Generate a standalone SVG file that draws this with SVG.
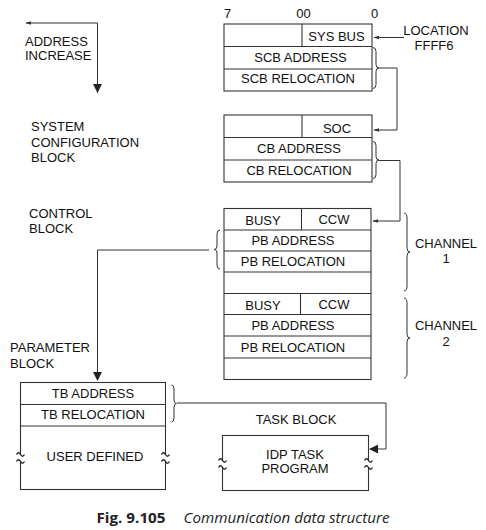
<svg xmlns="http://www.w3.org/2000/svg" width="486" height="530" viewBox="0 0 486 530">
<style>
.b{fill:none;stroke:#333;stroke-width:1.1}
.c{fill:none;stroke:#333;stroke-width:1}
.k{fill:none;stroke:#222;stroke-width:1.4}
.t{font-family:"Liberation Sans",Arial,sans-serif;font-size:13px;fill:#111}
.m{text-anchor:middle}
.w{fill:#fff;stroke:none}
</style>
<defs>
<marker id="op" viewBox="0 0 10 10" refX="9" refY="5" markerWidth="6" markerHeight="6" orient="auto" markerUnits="userSpaceOnUse">
<path d="M0 2 L10 5 L0 8 Z" fill="#333"/>
</marker>
<marker id="fl" viewBox="0 0 10 10" refX="9" refY="5" markerWidth="9" markerHeight="9" orient="auto" markerUnits="userSpaceOnUse">
<path d="M0 0 L10 5 L0 10 Z" fill="#222"/>
</marker>
</defs>
<rect width="486" height="530" fill="#fff"/>

<g id="address-increase">
<text class="t" x="25" y="46">ADDRESS</text>
<text class="t" x="25" y="60">INCREASE</text>
</g>

<g id="labels">
<text class="t" x="31" y="131">SYSTEM</text>
<text class="t" x="31" y="147">CONFIGURATION</text>
<text class="t" x="31" y="162">BLOCK</text>
<text class="t" x="29" y="218">CONTROL</text>
<text class="t" x="29" y="233">BLOCK</text>
<text class="t" x="10" y="352">PARAMETER</text>
<text class="t" x="10" y="368">BLOCK</text>
<text class="t m" x="436" y="35">LOCATION</text>
<text class="t m" x="434" y="50">FFFF6</text>
<text class="t m" x="446" y="248">CHANNEL</text>
<text class="t m" x="446" y="263">1</text>
<text class="t m" x="446" y="330">CHANNEL</text>
<text class="t m" x="446" y="346">2</text>
<text class="t m" x="296" y="424">TASK BLOCK</text>
</g>

<g id="sys-bus-block">
<text class="t" x="224" y="18">7</text>
<text class="t m" x="303.5" y="18">00</text>
<text class="t m" x="374.5" y="18">0</text>
<rect class="b" x="224" y="24" width="148" height="67"/>
<line class="b" x1="224" y1="46.5" x2="372" y2="46.5"/>
<line class="b" x1="224" y1="69" x2="372" y2="69"/>
<line class="b" x1="302" y1="24" x2="302" y2="46.5"/>
<text class="t m" x="336.5" y="41">SYS BUS</text>
<text class="t m" x="300.5" y="62">SCB ADDRESS</text>
<text class="t m" x="298" y="83">SCB RELOCATION</text>
</g>

<g id="system-configuration-block">
<rect class="b" x="224" y="115" width="148" height="67"/>
<line class="b" x1="224" y1="137.5" x2="372" y2="137.5"/>
<line class="b" x1="224" y1="160" x2="372" y2="160"/>
<line class="b" x1="302" y1="115" x2="302" y2="137.5"/>
<text class="t m" x="337" y="133">SOC</text>
<text class="t m" x="299" y="153">CB ADDRESS</text>
<text class="t m" x="299" y="175">CB RELOCATION</text>
</g>

<g id="control-block">
<rect class="b" x="224" y="208.5" width="147" height="171"/>
<line class="b" x1="224" y1="230" x2="371" y2="230"/>
<line class="b" x1="224" y1="251" x2="371" y2="251"/>
<line class="b" x1="224" y1="272" x2="371" y2="272"/>
<line class="b" x1="224" y1="293.5" x2="371" y2="293.5"/>
<line class="b" x1="224" y1="314.5" x2="371" y2="314.5"/>
<line class="b" x1="224" y1="336" x2="371" y2="336"/>
<line class="b" x1="224" y1="358" x2="371" y2="358"/>
<line class="b" x1="301.5" y1="208.5" x2="301.5" y2="230"/>
<line class="b" x1="300.5" y1="293.5" x2="300.5" y2="314.5"/>
<text class="t m" x="263" y="225">BUSY</text>
<text class="t m" x="334" y="224">CCW</text>
<text class="t m" x="293" y="245">PB ADDRESS</text>
<text class="t m" x="293" y="266">PB RELOCATION</text>
<text class="t m" x="263" y="310">BUSY</text>
<text class="t m" x="334" y="309">CCW</text>
<text class="t m" x="293" y="330">PB ADDRESS</text>
<text class="t m" x="293" y="351.5">PB RELOCATION</text>
</g>

<g id="parameter-block">
<rect class="b" x="20.5" y="382.5" width="145" height="107"/>
<line class="b" x1="20.5" y1="404.5" x2="165.5" y2="404.5"/>
<line class="b" x1="20.5" y1="426" x2="165.5" y2="426"/>
<rect class="w" x="15" y="454" width="12" height="8"/>
<rect class="w" x="160" y="454" width="12" height="8"/>
<path class="k" d="M16.5 454.5 q2 -3.5 4 0 t4 0 M16.5 461.5 q2 -3.5 4 0 t4 0 M161.5 454.5 q2 -3.5 4 0 t4 0 M161.5 461.5 q2 -3.5 4 0 t4 0"/>
<text class="t m" x="93" y="398">TB ADDRESS</text>
<text class="t m" x="93" y="419">TB RELOCATION</text>
<text class="t m" x="95" y="461">USER DEFINED</text>
</g>

<g id="task-block">
<rect class="b" x="222.5" y="435.5" width="146" height="55"/>
<rect class="w" x="217" y="460" width="12" height="8"/>
<rect class="w" x="363" y="460" width="12" height="8"/>
<path class="k" d="M218.5 460.5 q2 -3.5 4 0 t4 0 M218.5 467.5 q2 -3.5 4 0 t4 0 M364.5 460.5 q2 -3.5 4 0 t4 0 M364.5 467.5 q2 -3.5 4 0 t4 0"/>
<text class="t m" x="295" y="459">IDP TASK</text>
<text class="t m" x="295" y="473">PROGRAM</text>
</g>

<g id="connectors">
<polyline class="c" points="97.5,93 97.5,23 26,23" marker-end="url(#op)"/>
<line class="c" x1="97.5" y1="23" x2="97.5" y2="92" marker-end="url(#fl)"/>
<line class="c" x1="404" y1="37.5" x2="374" y2="37.5" marker-end="url(#op)"/>
<path class="c" d="M373 47.5 q3 0 3 4 v13 q0 3.5 3 3.5 q-3 0 -3 3.5 v13 q0 4 -3 4"/>
<polyline class="c" points="379,68 397,68 397,130 374,130" marker-end="url(#op)"/>
<path class="c" d="M373 141.5 q3 0 3 4 v11 q0 3.5 3 3.5 q-3 0 -3 3.5 v11 q0 4 -3 4"/>
<polyline class="c" points="379,160.5 400,160.5 400,221 373,221" marker-end="url(#op)"/>
<path class="c" d="M220 230 q-3 0 -3 4 v12 q0 3.5 -3 3.5 q3 0 3 3.5 v12 q0 4 3 4"/>
<polyline class="c" points="209,250 97.5,250 97.5,380" marker-end="url(#fl)"/>
<path class="c" d="M404 213 q3 0 3 5 v30 q0 4 3 4 q-3 0 -3 4 v30 q0 5 -3 5"/>
<path class="c" d="M404 298 q3 0 3 5 v31 q0 4 3 4 q-3 0 -3 4 v31 q0 5 -3 5"/>
<path class="c" d="M171.5 385 q2.5 0 2.5 4 v11 q0 3.5 2.5 3.5 q-2.5 0 -2.5 3.5 v11 q0 4 -2.5 4"/>
<polyline class="c" points="177,403 386,403 386,449 370,449" marker-end="url(#fl)"/>
</g>

<g id="caption">
<text x="96.5" y="523" font-family="'Open Sans','DejaVu Sans',sans-serif" font-weight="bold" font-size="14" fill="#222" textLength="69" lengthAdjust="spacingAndGlyphs">Fig. 9.105</text>
<text x="183.5" y="523" font-family="'Open Sans','DejaVu Sans',sans-serif" font-style="italic" font-size="14" fill="#222" textLength="206" lengthAdjust="spacingAndGlyphs">Communication data structure</text>
</g>
</svg>
